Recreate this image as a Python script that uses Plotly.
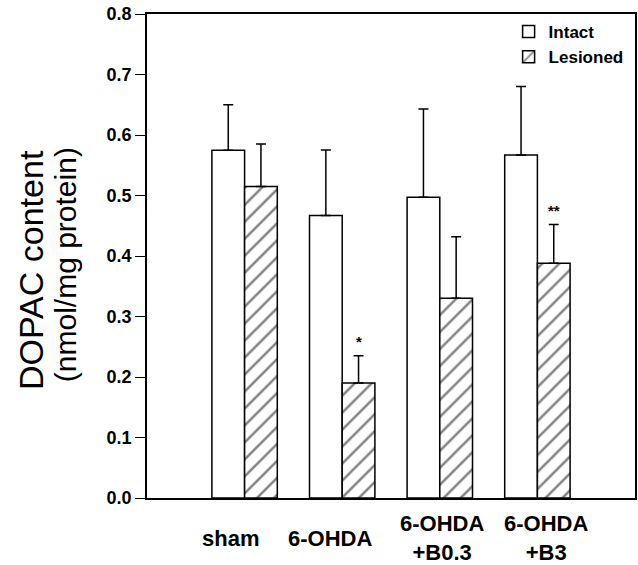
import plotly.graph_objects as go

groups = ["sham", "6-OHDA", "6-OHDA<br>+B0.3", "6-OHDA<br>+B3"]
xpos = [1, 2, 3, 4]
intact = [0.575, 0.467, 0.497, 0.567]
intact_err = [0.075, 0.108, 0.146, 0.113]
lesioned = [0.515, 0.19, 0.33, 0.388]
lesioned_err = [0.070, 0.045, 0.102, 0.064]
marks = ["", "*", "", "**"]
yticks = [0.0, 0.1, 0.2, 0.3, 0.4, 0.5, 0.6, 0.7, 0.8]
ytitle1 = "DOPAC content"
ytitle2 = "(nmol/mg protein)"

FONT = "Arial, Liberation Sans, sans-serif"
BARGAP = 0.33
LABEL_SHIFTS = [-14, -12, 2, 9]   # hand placement of the category labels (px)

fig = go.Figure()
fig.add_trace(go.Bar(
    x=xpos, y=intact, name="Intact",
    marker=dict(color="white", line=dict(color="black", width=1.5)),
    error_y=dict(type="data", symmetric=False, array=intact_err,
                 arrayminus=[0] * len(intact), color="black", thickness=1.5, width=5),
))
fig.add_trace(go.Bar(
    x=xpos, y=lesioned, name="Lesioned",
    marker=dict(color="white", line=dict(color="black", width=1.5),
                pattern=dict(shape="/", fgcolor="black", bgcolor="white", size=12, solidity=0.2)),
    error_y=dict(type="data", symmetric=False, array=lesioned_err,
                 arrayminus=[0] * len(lesioned), color="black", thickness=1.5, width=5),
))

half = (1 - BARGAP) / 4
for xp, v, e, m in zip(xpos, lesioned, lesioned_err, marks):
    if m:
        fig.add_annotation(x=xp + half, y=v + e, text=m, showarrow=False,
                           yanchor="bottom", yshift=4,
                           font=dict(family=FONT, size=15, color="black", weight="bold"))

# category labels, vertically centred under the axis
for xp, g, dx in zip(xpos, groups, LABEL_SHIFTS):
    fig.add_annotation(x=xp, xref="x", y=0, yref="paper", text=g, showarrow=False,
                       yanchor="middle", yshift=-40, xshift=dx, align="center",
                       font=dict(family=FONT, size=22, color="black", weight="bold"))

# y-axis title (two lines)
fig.add_annotation(x=0, xref="paper", y=0.471, yref="paper", text=ytitle1, showarrow=False,
                   textangle=-90, xanchor="center", yanchor="middle", xshift=-116,
                   font=dict(family=FONT, size=34, color="black"))
fig.add_annotation(x=0, xref="paper", y=0.481, yref="paper", text=ytitle2, showarrow=False,
                   textangle=-90, xanchor="center", yanchor="middle", xshift=-82,
                   font=dict(family=FONT, size=30, color="black"))

fig.update_layout(
    width=638, height=565,
    margin=dict(l=147, r=1, t=14, b=67),
    paper_bgcolor="white", plot_bgcolor="white",
    barmode="group", bargap=BARGAP, bargroupgap=0,
    font=dict(family=FONT, color="black"),
    legend=dict(x=0.741, y=1.0, xanchor="left", yanchor="top",
                font=dict(family=FONT, size=17, color="black", weight="bold"),
                bgcolor="rgba(0,0,0,0)", tracegroupgap=0),
    showlegend=True,
)
fig.update_xaxes(
    range=[0, 5], tickvals=xpos, showticklabels=False, ticks="",
    showline=True, linecolor="black", linewidth=1.5, mirror=True,
    showgrid=False, zeroline=False,
)
fig.update_yaxes(
    range=[0, 0.8], tickvals=yticks, ticktext=[f"{v:.1f}" for v in yticks],
    ticks="outside", ticklen=10, tickwidth=1.2, tickcolor="black",
    showline=True, linecolor="black", linewidth=1.5, mirror=True,
    showgrid=False, zeroline=False,
    tickfont=dict(family=FONT, size=18, color="black", weight="bold"),
)

fig.write_html("out.html")
